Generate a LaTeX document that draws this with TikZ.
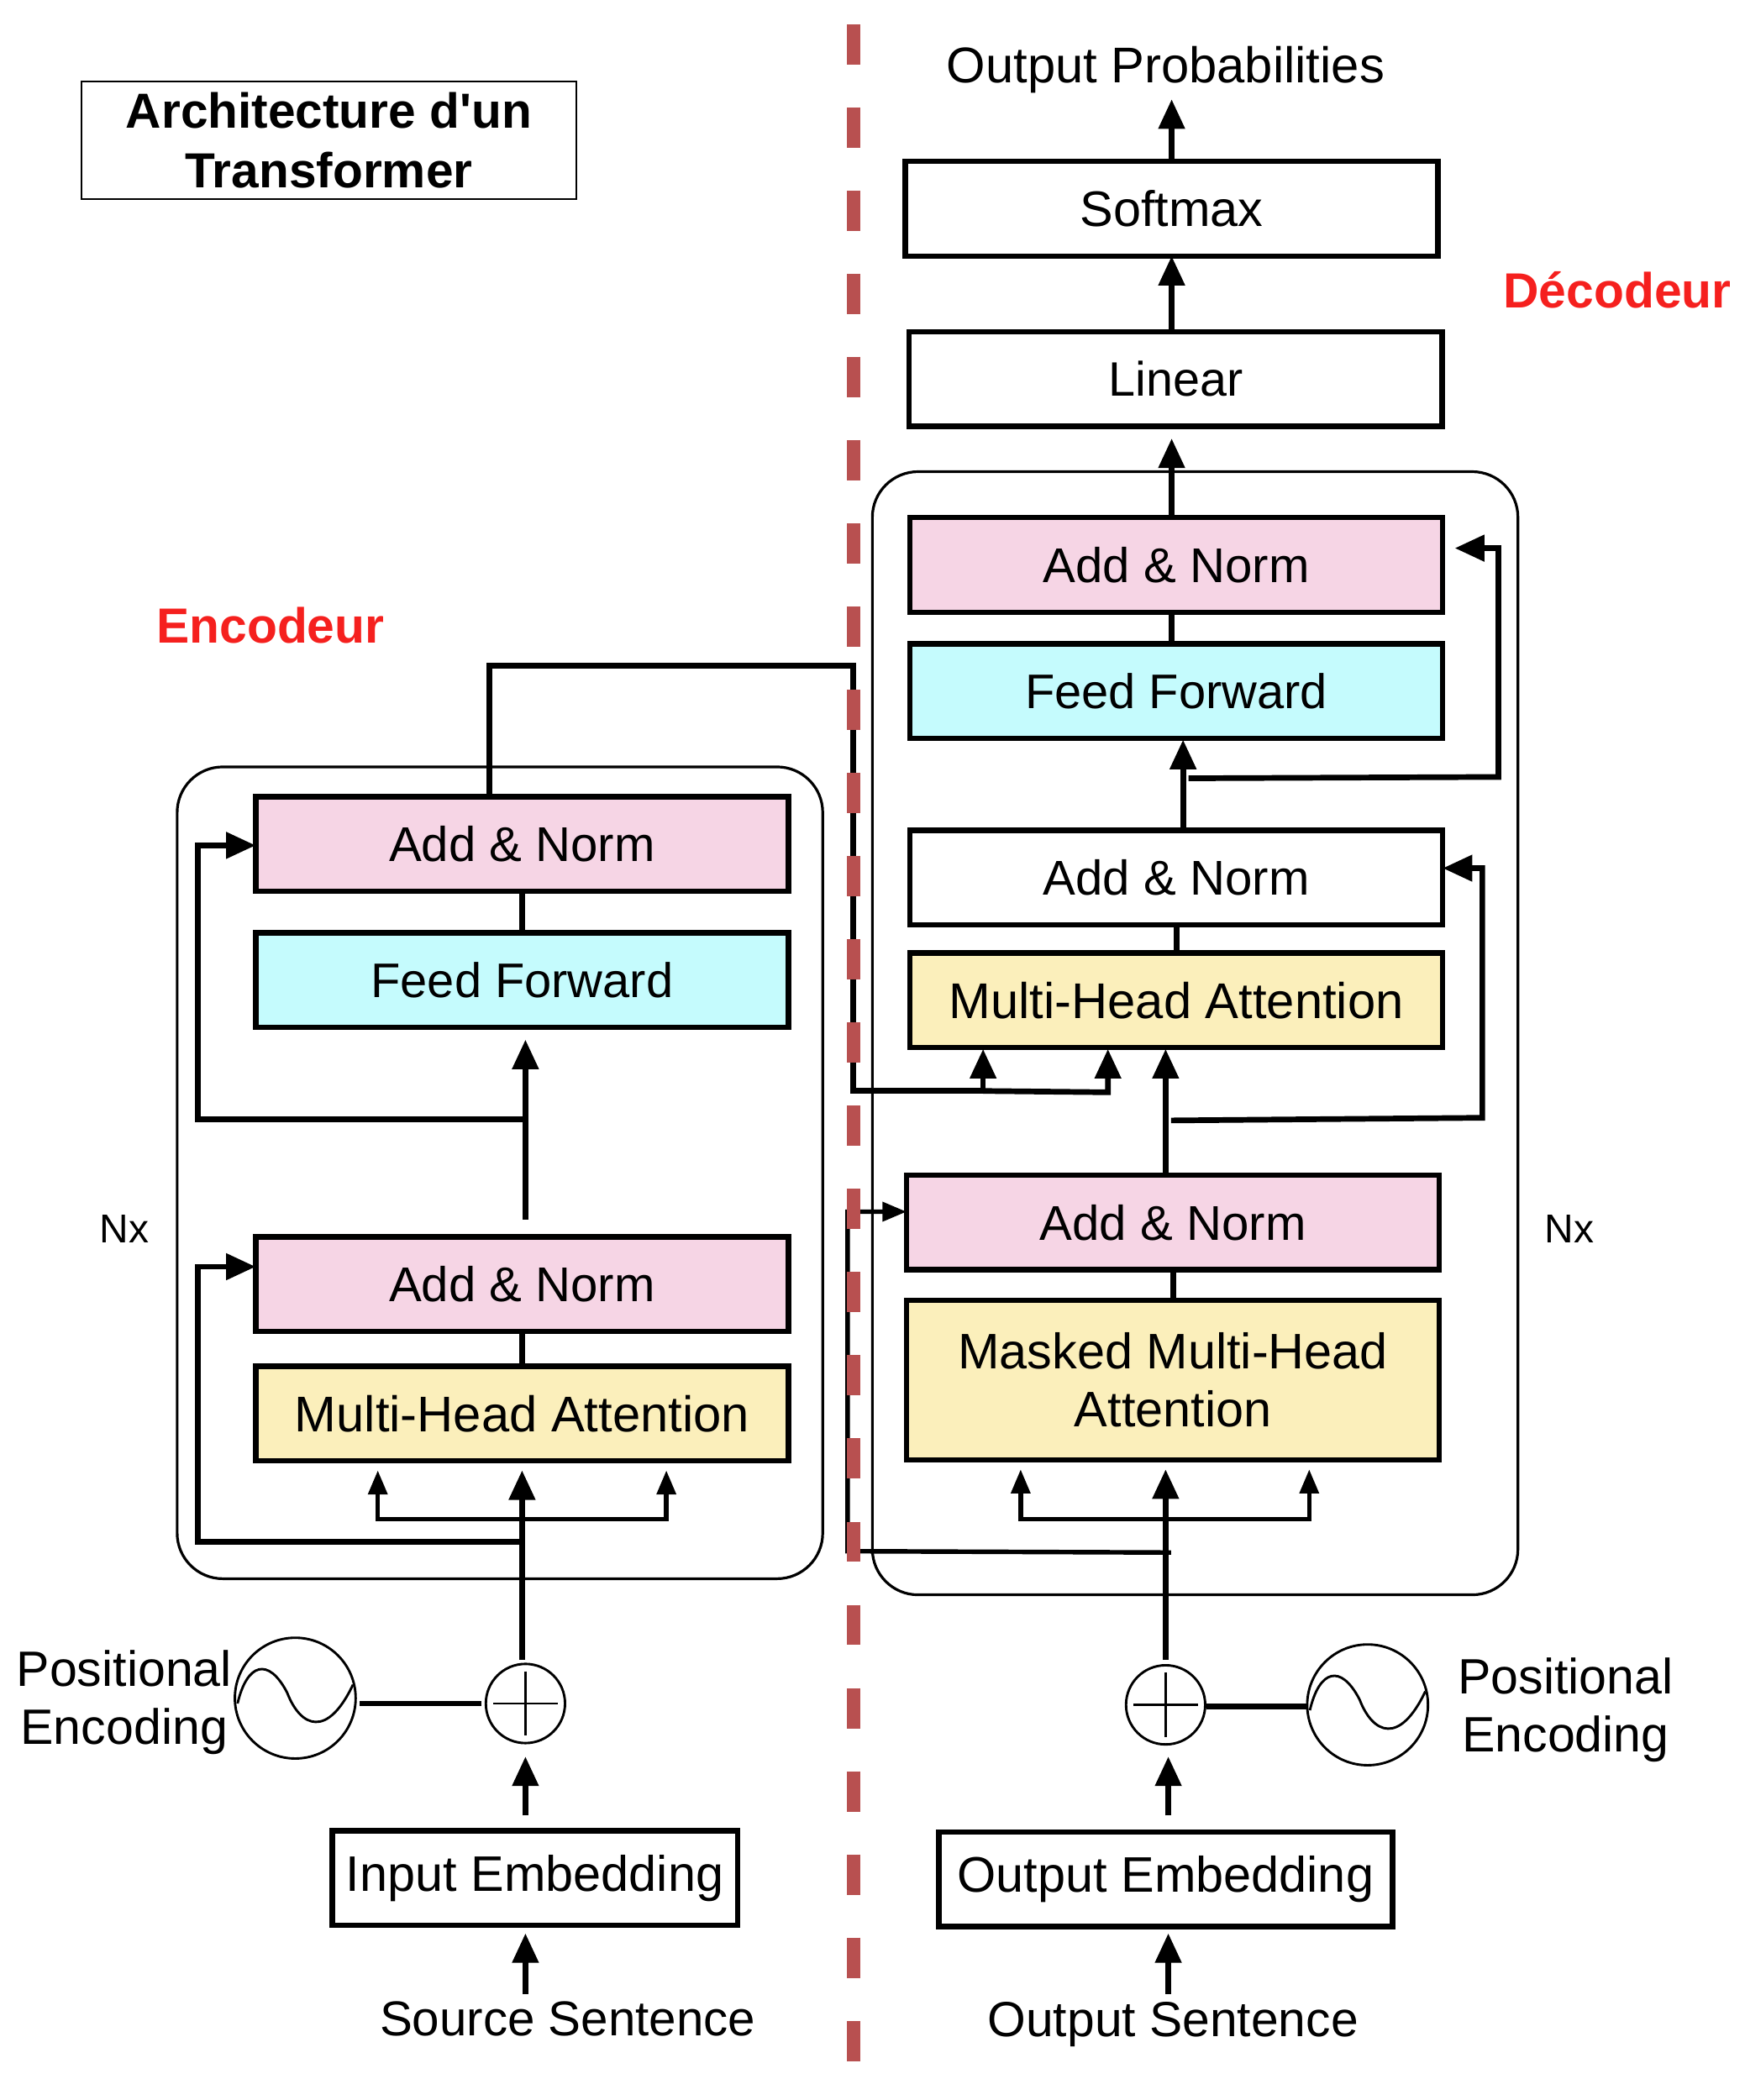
\documentclass[tikz,border=0pt]{standalone}
\usepackage{fontspec}
\setmainfont{Liberation Sans}
\usetikzlibrary{arrows.meta,calc}
\definecolor{pinkc}{HTML}{F6D5E5}
\definecolor{cyanc}{HTML}{C5FBFD}
\definecolor{yellowc}{HTML}{FBEFBB}
\definecolor{dashc}{HTML}{B85050}
\definecolor{redc}{HTML}{F5201E}
\newcommand{\fsz}[1]{\fontsize{#1}{21.5}\selectfont}
\tikzset{
  boxn/.style={draw=black,line width=2pt,inner sep=0pt,outer sep=0pt,align=center,font=\fsz{18.5},minimum width=198.5pt,minimum height=35.25pt},
  pinkn/.style={boxn,fill=pinkc},
  cyann/.style={boxn,fill=cyanc},
  yelln/.style={boxn,fill=yellowc},
  whiten/.style={boxn,fill=white},
  txt/.style={inner sep=0pt,outer sep=0pt,align=center,font=\fsz{18.5}},
  redt/.style={inner sep=0pt,text=redc,font=\fontsize{18.4}{22}\bfseries\selectfont},
  nxt/.style={inner sep=0pt,font=\fontsize{15}{18}\selectfont},
  frame/.style={draw=black,line width=1pt,rounded corners=17pt,inner sep=0pt,outer sep=0pt},
  circn/.style={circle,draw=black,line width=.9pt,inner sep=0pt,outer sep=0pt},
  conn/.style={draw=black,line width=2.1pt},
  thinconn/.style={draw=black,line width=1.7pt},
  arr/.style={conn,-{Triangle[length=11pt,width=9.5pt]}},
  sarr/.style={thinconn,-{Triangle[length=9pt,width=7pt]}},
}
\begin{document}
\begin{tikzpicture}[x=.5pt,y=-.5pt]
\useasboundingbox (0,0) rectangle (1300,1565);
\begin{scope}[xshift=-.5pt,yshift=.5pt]
% containers
\node[frame,minimum width=240.5pt,minimum height=302.5pt] (encf) at (373.5,875) {};
\node[frame,minimum width=240.5pt,minimum height=418.5pt] (decf) at (891.5,771) {};
% title
\node[draw=black,line width=.6pt,inner sep=0pt,align=center,minimum width=184.5pt,minimum height=44pt,font=\fontsize{18.35}{22}\bfseries\selectfont] (title) at (246,105.5) {Architecture d\textquotesingle un\\Transformer};
% encoder
\node[pinkn,font=\fsz{18.2}] (ean2) at (390,630) {Add \& Norm};
\node[cyann,font=\fsz{18.1}] (eff) at (390,731.5) {Feed Forward};
\node[pinkn,font=\fsz{18.2}] (ean1) at (390,958) {Add \& Norm};
\node[yelln,font=\fsz{18.7}] (emha) at (390,1054.5) {Multi-Head Attention};
\node[whiten,minimum width=151pt,font=\fsz{18.6}] (iemb) at (399.5,1400.5) {Input Embedding};
\node[txt,font=\fsz{18.25}] (src) at (424,1505.5) {Source Sentence};
\node[circn,minimum size=29.5pt] (eplus) at (392.5,1270.5) {};
\node[circn,minimum size=45pt] (esin) at (221,1266.5) {};
\node[txt,font=\fsz{18.5}] (epos) at (93.5,1269.5) {Positional\\Encoding};
\node[nxt] (enx) at (93.5,917) {Nx};
\node[redt] (enct) at (202.5,467) {Encodeur};
% decoder
\node[whiten,font=\fsz{18.6}] (soft) at (874,156.5) {Softmax};
\node[whiten,font=\fsz{18}] (lin) at (877,283.5) {Linear};
\node[pinkn,font=\fsz{18.2}] (dan3) at (877.5,422) {Add \& Norm};
\node[cyann,font=\fsz{18.1}] (dff) at (877.5,516) {Feed Forward};
\node[whiten,font=\fsz{18.2}] (dan2) at (877.5,655) {Add \& Norm};
\node[yelln,font=\fsz{18.7}] (dmha) at (877.5,746.5) {Multi-Head Attention};
\node[pinkn,font=\fsz{18.2}] (dan1) at (875,912) {Add \& Norm};
\node[yelln,minimum height=59.5pt,font=\fsz{18.6}] (dmask) at (875,1029.5) {Masked Multi-Head\\Attention};
\node[whiten,minimum width=169pt,font=\fsz{18.6}] (oemb) at (869.5,1401.5) {Output Embedding};
\node[txt,font=\fsz{18.4}] (outs) at (875,1509.5) {Output Sentence};
\node[txt,font=\fsz{18.7}] (outp) at (869.5,53) {Output Probabilities};
\node[circn,minimum size=29.5pt] (dplus) at (869.5,1271.5) {};
\node[circn,minimum size=45pt] (dsin) at (1020,1271.5) {};
\node[txt,font=\fsz{18.5}] (dpos) at (1167.5,1275.5) {Positional\\Encoding};
\node[nxt] (dnx) at (1170.5,917) {Nx};
\node[redt] (dect) at (1206,217) {Décodeur};
% plus signs and sine waves
\foreach \n in {eplus,dplus}{
  \begin{scope}[shift={(\n.center)}]
    \draw[line width=.9pt] (-24,0) -- (24,0) (0,-24) -- (0,24);
  \end{scope}}
\foreach \n in {esin,dsin}{
  \begin{scope}[shift={(\n.center)}]
    \draw[line width=.9pt] (-43,4) .. controls (-36,-26) and (-20,-31) .. (-6,-4) .. controls (4,22) and (24,30) .. (43,-10);
  \end{scope}}
% free-end coordinates
\coordinate (ea) at (392.5,1487); \coordinate (eb) at (392.5,1354);
\coordinate (ec) at (390,1238); \coordinate (ebl) at (282.5,1133); \coordinate (ebr) at (497.5,1133);
\coordinate (eres1) at (148.5,1150); \coordinate (eres2) at (148.5,835);
\coordinate (eup) at (392.5,910);
\coordinate (eout) at (365.5,497); \coordinate (eturn) at (636.5,814);
\coordinate (da) at (871.5,1487); \coordinate (db) at (871.5,1354);
\coordinate (dc) at (869.5,1238); \coordinate (dbl) at (761.5,1133); \coordinate (dbr) at (976.5,1133);
\coordinate (dres) at (632.5,1157); \coordinate (dresb) at (873.5,1158);
\coordinate (dq1) at (733.5,814); \coordinate (dq2) at (826.5,815);
\coordinate (dr1a) at (873.5,836); \coordinate (dr1b) at (1105.5,834);
\coordinate (dr2a) at (886.5,581); \coordinate (dr2b) at (1117.5,580);
\coordinate (dtop) at (874,380); \coordinate (tipout) at (874,75);
% encoder connectors
\draw[arr] (ea) -- ($(iemb.south -| ea)+(0,6)$);
\draw[arr] (eb) -- ($(eplus.south -| eb)+(0,10)$);
\draw[conn] ($(esin.east)+(3,4)$) -- ($(eplus.west)+(-3,0)$);
\draw[arr] (ec) -- ($(emha.south -| ec)+(0,7)$);
\draw[sarr] (ec |- ebl) -- (ebl) -- ($(emha.south -| ebl)+(0,7)$);
\draw[sarr] (ec |- ebr) -- (ebr) -- ($(emha.south -| ebr)+(0,7)$);
\draw[arr] (ec |- eres1) -- (eres1) -- ($(eres1 |- ean1.west)+(0,-13)$) -- ($(ean1.west)+(0,-13)$);
\draw[conn] (emha.north) -- (ean1.south);
\draw[arr] (eup) -- ($(eff.south -| eup)+(0,9)$);
\draw[arr] (eup |- eres2) -- (eres2) -- ($(eres2 |- ean2.west)+(0,1)$) -- ($(ean2.west)+(0,1)$);
\draw[conn] (eff.north) -- (ean2.south);
\draw[conn] (ean2.north -| eout) -- (eout) -- (eout -| eturn) -- (eturn) -- (dq1);
\draw[arr] (dq1) -- (dq2) -- ($(dmha.south -| dq2)+(0,1)$);
\draw[arr] (dq1) -- ($(dmha.south -| dq1)+(0,1)$);
% decoder connectors
\draw[arr] (da) -- ($(oemb.south -| da)+(0,5)$);
\draw[arr] (db) -- ($(dplus.south -| db)+(0,9)$);
\draw[conn] ($(dplus.east)+(1,1)$) -- ($(dsin.west)+(0,1)$);
\draw[arr] (dc) -- ($(dmask.south -| dc)+(0,7)$);
\draw[sarr] (dc |- dbl) -- (dbl) -- ($(dmask.south -| dbl)+(0,7)$);
\draw[sarr] (dc |- dbr) -- (dbr) -- ($(dmask.south -| dbr)+(0,7)$);
\draw[sarr] (dresb) -- (dres) -- ($(dres |- dan1.west)+(0,-8)$) -- ($(dan1.west)+(0,-8)$);
\draw[conn] (dmask.north) -- (dan1.south);
\draw[arr] (dan1.north -| dc) -- ($(dmha.south -| dc)+(0,1)$);
\draw[arr] (dr1a) -- (dr1b) -- ($(dr1b |- dan2.east)+(0,-7)$) -- ($(dan2.east)+(0,-7)$);
\draw[conn] (dmha.north) -- (dan2.south);
\draw[arr] ($(dan2.north -| dr2a)+(-4,0)$) -- ($(dff.south -| dr2a)+(-4,1)$);
\draw[arr] (dr2a) -- (dr2b) -- ($(dr2b |- dan3.east)+(0,-12.5)$) -- ($(dan3.east)+(9,-12.5)$);
\draw[conn] (dff.north -| dtop) -- (dan3.south -| dtop);
\draw[arr] (dan3.north -| dtop) -- ($(lin.south -| dtop)+(0,9)$);
\draw[arr] (lin.north -| dtop) -- ($(soft.south -| dtop)+(0,0)$);
\draw[arr] (soft.north -| dtop) -- (tipout);
% dashed separator
\coordinate (dsa) at (637,19); \coordinate (dsb) at (637,1538);
\draw[draw=dashc,line width=5pt,dash pattern=on 15pt off 16pt] (dsa) -- (dsb);
\end{scope}
\end{tikzpicture}
\end{document}
